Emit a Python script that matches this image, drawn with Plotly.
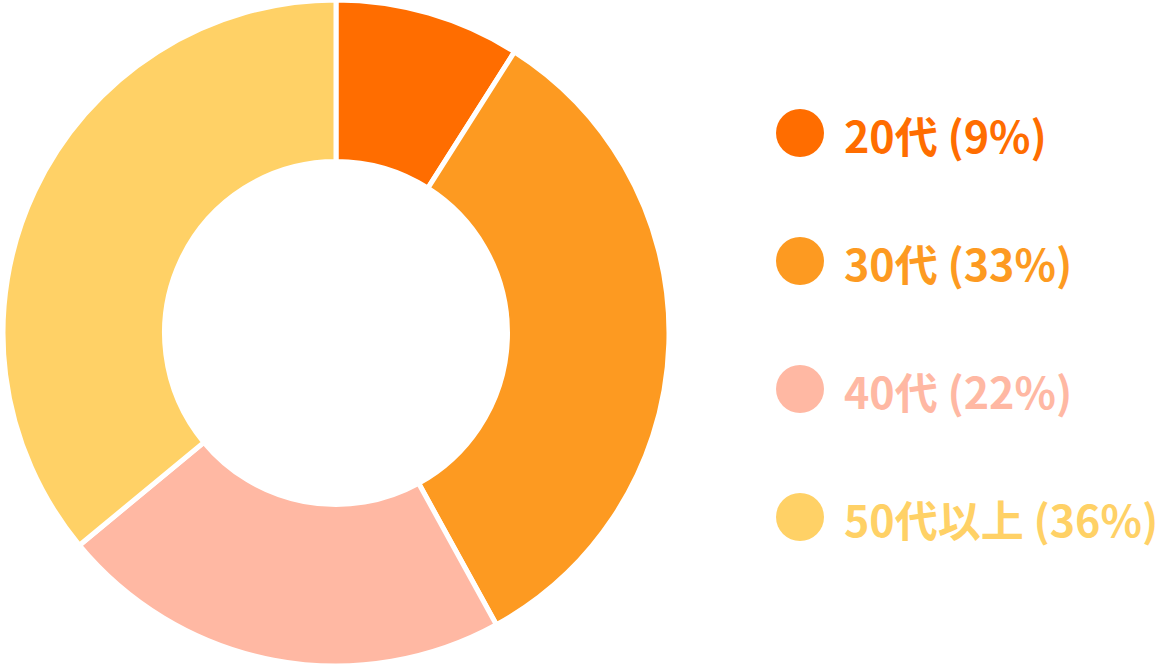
import plotly.graph_objects as go

# data
labels = ["20代", "30代", "40代", "50代以上"]
values = [9, 33, 22, 36]
colors = ["#FF6D00", "#FD9A21", "#FFB8A3", "#FFD166"]

W, H = 1158, 666
FONT = "Noto Sans CJK JP"

fig = go.Figure()

# donut
fig.add_trace(
    go.Pie(
        labels=labels,
        values=values,
        hole=0.515,
        sort=False,
        direction="clockwise",
        rotation=0,
        marker=dict(colors=colors, line=dict(color="white", width=5)),
        textinfo="none",
        hoverinfo="label+percent",
        showlegend=False,
        domain=dict(x=[0, 672 / W], y=[0, 1]),
    )
)

# custom legend: circle markers + colored text
leg_x = 800
leg_y = [133, 261, 389, 517]
fig.add_trace(
    go.Scatter(
        x=[leg_x] * len(labels),
        y=leg_y,
        mode="markers",
        marker=dict(size=48, color=colors, line=dict(width=0)),
        hoverinfo="skip",
        showlegend=False,
    )
)

for lab, val, col, y in zip(labels, values, colors, leg_y):
    fig.add_annotation(
        x=842,
        y=y + 1,
        xref="x",
        yref="y",
        text=f"<b>{lab} ({val}%)</b>",
        showarrow=False,
        xanchor="left",
        yanchor="middle",
        font=dict(family=FONT, size=43, color=col),
    )

fig.update_layout(
    width=W,
    height=H,
    margin=dict(l=0, r=0, t=0, b=0),
    paper_bgcolor="white",
    plot_bgcolor="rgba(0,0,0,0)",
    xaxis=dict(range=[0, W], visible=False, fixedrange=True),
    yaxis=dict(range=[H, 0], visible=False, fixedrange=True),
    font=dict(family=FONT),
)

# drop the default page margin so the figure sits at the window corner
fig.write_html(
    "out.html",
    config={"displayModeBar": False},
    post_script="document.body.style.margin='0';",
)
